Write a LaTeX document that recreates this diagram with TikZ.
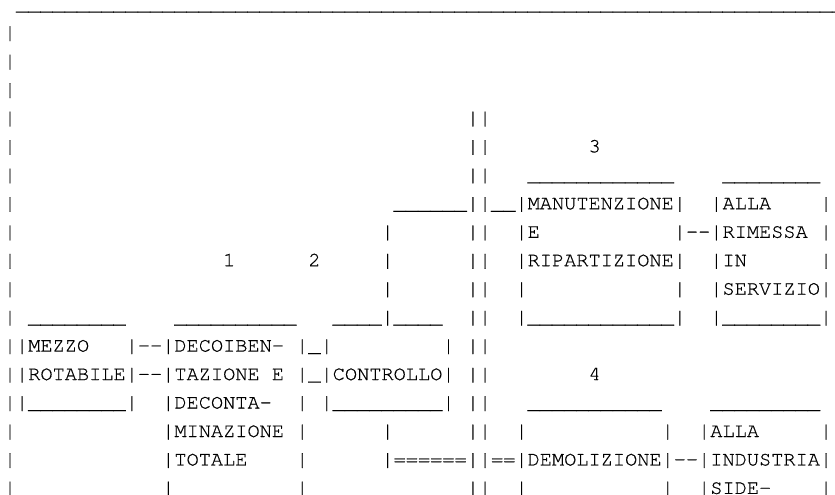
\documentclass[tikz,border=0pt]{standalone}
\usepackage{fontspec}
\setmonofont{TeX Gyre Cursor}[FakeBold=0.6]
\ExplSyntaxOn
\cs_new:Npn \myrep #1#2 {\prg_replicate:nn {#1}{#2}}
\ExplSyntaxOff
\newcommand\Us[1]{\myrep{#1}{\_}}
\tikzset{txt/.style={anchor=base west,inner sep=0pt,outer sep=0pt,text=black,
  font=\ttfamily\fontsize{20.3}{24}\selectfont}}
\newcommand\At[4]{\node[txt] (#1) at ({3.9+12.18*#3},{-(10.1+28.46*#2)}) {#4};}
\begin{document}
\begin{tikzpicture}[x=1pt,y=1pt]
\useasboundingbox (0,0) rectangle (835,-495);
\clip (0,0) rectangle (835,-495);
% row 0
\At{t0}{0}{1}{\Us{69}}
% rows 1-3
\At{a1}{1}{0}{|}
\At{a2}{2}{0}{|}
\At{a3}{3}{0}{|}
% row 4
\At{a4}{4}{0}{|}\At{b4}{4}{38}{||}
% row 5
\At{a5}{5}{0}{|}\At{b5}{5}{38}{||}\At{n3}{5}{48}{3}
% row 6
\At{a6}{6}{0}{|}\At{b6}{6}{38}{||}\At{c6}{6}{43}{\Us{12}}\At{d6}{6}{59}{\Us{8}}
% row 7
\At{a7}{7}{0}{|}\At{b7}{7}{32}{\Us{6}||\_\_|MANUTENZIONE|}\At{c7}{7}{58}{|ALLA}\At{d7}{7}{67}{|}
% row 8
\At{a8}{8}{0}{|}\At{b8}{8}{31}{|}\At{c8}{8}{38}{||}\At{d8}{8}{42}{|E}\At{e8}{8}{55}{|-{}-|RIMESSA}\At{f8}{8}{67}{|}
% row 9
\At{a9}{9}{0}{|}\At{n1}{9}{18}{1}\At{n2}{9}{25}{2}\At{b9}{9}{31}{|}\At{c9}{9}{38}{||}\At{d9}{9}{42}{|RIPARTIZIONE|}\At{e9}{9}{58}{|IN}\At{f9}{9}{67}{|}
% row 10
\At{a10}{10}{0}{|}\At{b10}{10}{31}{|}\At{c10}{10}{38}{||}\At{d10}{10}{42}{|}\At{e10}{10}{55}{|}\At{f10}{10}{58}{|SERVIZIO|}
% row 11
\At{a11}{11}{0}{|}\At{b11}{11}{2}{\Us{8}}\At{c11}{11}{14}{\Us{10}}\At{d11}{11}{27}{\Us{4}|\Us{4}}\At{e11}{11}{38}{||}\At{f11}{11}{42}{|\Us{12}|}\At{g11}{11}{58}{|\Us{8}|}
% row 12
\At{a12}{12}{0}{||MEZZO}\At{b12}{12}{10}{|-{}-|DECOIBEN-}\At{c12}{12}{24}{|\_|}\At{d12}{12}{36}{|}\At{e12}{12}{38}{||}
% row 13
\At{a13}{13}{0}{||ROTABILE|-{}-|TAZIONE}\At{b13}{13}{22}{E}\At{c13}{13}{24}{|\_|CONTROLLO|}\At{d13}{13}{38}{||}\At{n4}{13}{48}{4}
% row 14
\At{a14}{14}{0}{||\Us{8}|}\At{b14}{14}{13}{|DECONTA-}\At{c14}{14}{24}{|}\At{d14}{14}{26}{|\Us{9}|}\At{e14}{14}{38}{||}\At{f14}{14}{43}{\Us{11}}\At{g14}{14}{58}{\Us{9}}
% row 15
\At{a15}{15}{0}{|}\At{b15}{15}{13}{|MINAZIONE}\At{c15}{15}{24}{|}\At{d15}{15}{31}{|}\At{e15}{15}{38}{||}\At{f15}{15}{42}{|}\At{g15}{15}{54}{|}\At{h15}{15}{57}{|ALLA}\At{i15}{15}{67}{|}
% row 16
\At{a16}{16}{0}{|}\At{b16}{16}{13}{|TOTALE}\At{c16}{16}{24}{|}\At{d16}{16}{31}{|======||==|DEMOLIZIONE|-{}-|INDUSTRIA|}
% row 17
\At{a17}{17}{0}{|}\At{b17}{17}{13}{|}\At{c17}{17}{24}{|}\At{d17}{17}{38}{||}\At{e17}{17}{42}{|}\At{f17}{17}{54}{|}\At{g17}{17}{57}{|SIDE-}\At{h17}{17}{67}{|}
\end{tikzpicture}
\end{document}
